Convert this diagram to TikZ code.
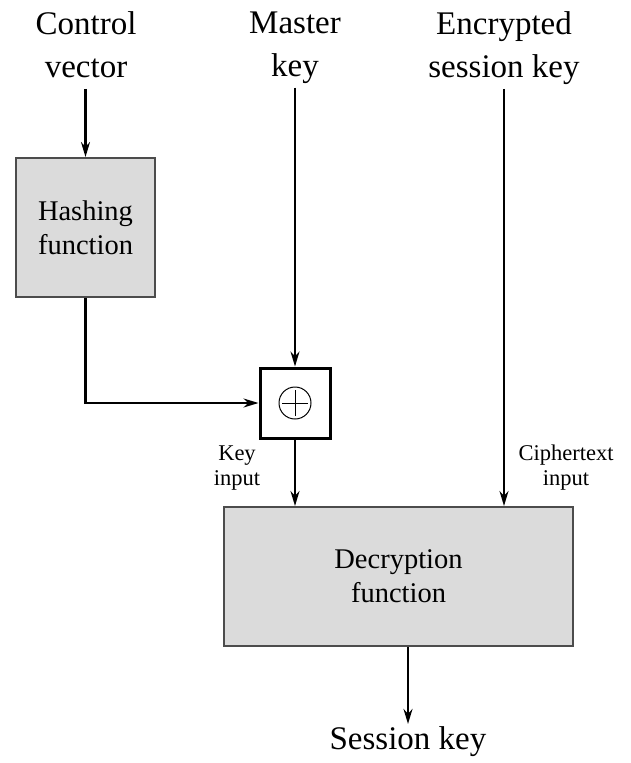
\documentclass[tikz,border=0pt]{standalone}
\usepackage{fontspec}
\setmainfont{Liberation Serif}
\usetikzlibrary{arrows.meta}

\tikzset{
  bigtext/.style={font=\fontsize{33}{43}\selectfont,align=center,inner sep=2pt},
  intext/.style={bigtext,anchor=north,text depth=8pt},
  boxtext/.style={font=\fontsize{28.5}{34}\selectfont,align=center},
  smalltext/.style={font=\fontsize{22.5}{25}\selectfont,align=center},
  funcbox/.style={draw=black!70,line width=2pt,fill=black!14,rectangle},
}

\begin{document}
\begin{tikzpicture}[x=1pt,y=-1pt,>={Stealth[length=15pt,width=9pt]},line width=2.1pt]
\useasboundingbox (0,0) rectangle (631,763);
% inputs
\node[intext] (cv) at (86,9) {Control\\vector};
\node[intext] (mk) at (295,9) {Master\\key};
\node[intext] (esk) at (504,9) {Encrypted\\session key};
% blocks
\node[funcbox,boxtext,minimum width=139pt,minimum height=139pt] (hash) at (85.5,227.5) {Hashing\\function};
\node[draw,line width=3pt,minimum width=70pt,minimum height=70pt] (xor) at (295,403) {};
\draw[line width=1pt] (xor.center) circle (16);
\draw[line width=1pt] ([xshift=-13pt]xor.center) -- ([xshift=13pt]xor.center);
\draw[line width=1pt] ([yshift=-13pt]xor.center) -- ([yshift=13pt]xor.center);
\node[funcbox,boxtext,minimum width=349pt,minimum height=139pt] (dec) at (398.5,576.5) {Decryption\\function};
\node[bigtext] (sk) at (408,742) {Session key};
\node[smalltext] (keyin) at (237,468) {Key\\input};
\node[smalltext] (ctin) at (566,468) {Ciphertext\\input};
% connectors
\draw[->] (cv.south -| hash.north) -- (hash.north);
\draw[->] (hash.south) |- (xor.west);
\draw[->] (mk) -- (xor);
\draw[->] (xor.south) -- (xor.south |- dec.north);
\draw[->] (esk.south) -- (esk.south |- dec.north);
\draw[->] (dec.south -| sk.north) -- (sk.north);
\end{tikzpicture}
\end{document}
